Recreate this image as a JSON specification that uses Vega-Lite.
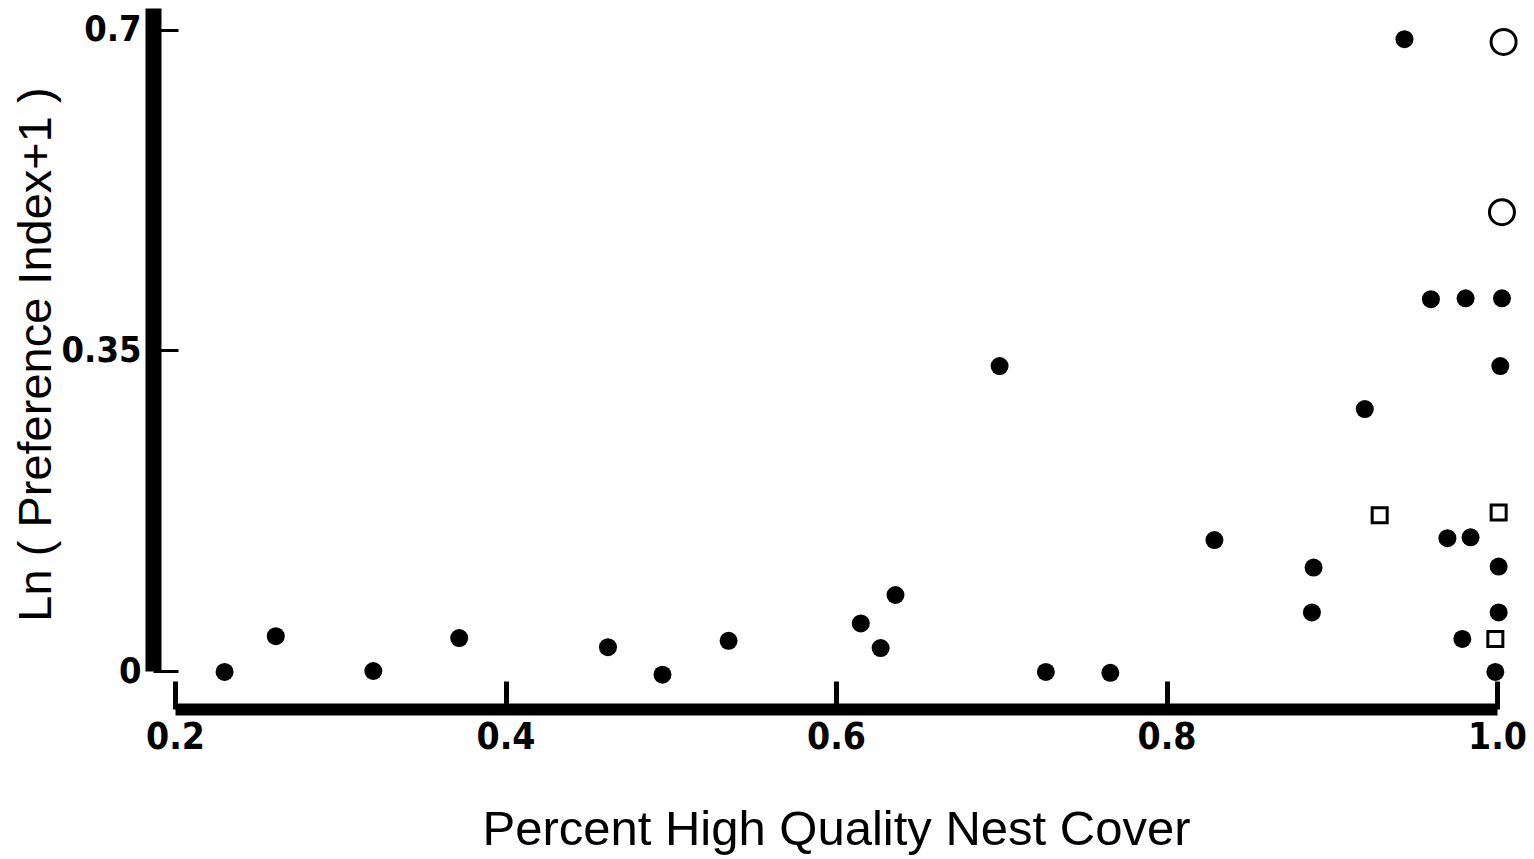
{
  "$schema": "https://vega.github.io/schema/vega-lite/v6.json",
  "width": 1322,
  "height": 663,
  "autosize": {"type": "none"},
  "padding": {"left": 175, "top": 8, "right": 37, "bottom": 188},
  "background": "white",
  "config": {"view": {"stroke": null}, "axis": {"grid": false}},
  "data": {
    "values": [
      {"cover": 0.230, "pref": -0.001, "type": "filled"},
      {"cover": 0.261, "pref": 0.038, "type": "filled"},
      {"cover": 0.320, "pref": 0.000, "type": "filled"},
      {"cover": 0.372, "pref": 0.036, "type": "filled"},
      {"cover": 0.462, "pref": 0.026, "type": "filled"},
      {"cover": 0.495, "pref": -0.004, "type": "filled"},
      {"cover": 0.535, "pref": 0.033, "type": "filled"},
      {"cover": 0.615, "pref": 0.052, "type": "filled"},
      {"cover": 0.627, "pref": 0.025, "type": "filled"},
      {"cover": 0.636, "pref": 0.083, "type": "filled"},
      {"cover": 0.699, "pref": 0.333, "type": "filled"},
      {"cover": 0.727, "pref": -0.001, "type": "filled"},
      {"cover": 0.766, "pref": -0.002, "type": "filled"},
      {"cover": 0.829, "pref": 0.143, "type": "filled"},
      {"cover": 0.889, "pref": 0.113, "type": "filled"},
      {"cover": 0.888, "pref": 0.064, "type": "filled"},
      {"cover": 0.920, "pref": 0.286, "type": "filled"},
      {"cover": 0.944, "pref": 0.690, "type": "filled"},
      {"cover": 0.960, "pref": 0.406, "type": "filled"},
      {"cover": 0.981, "pref": 0.407, "type": "filled"},
      {"cover": 1.003, "pref": 0.407, "type": "filled"},
      {"cover": 1.002, "pref": 0.333, "type": "filled"},
      {"cover": 0.970, "pref": 0.145, "type": "filled"},
      {"cover": 0.984, "pref": 0.146, "type": "filled"},
      {"cover": 1.001, "pref": 0.114, "type": "filled"},
      {"cover": 1.001, "pref": 0.064, "type": "filled"},
      {"cover": 0.979, "pref": 0.035, "type": "filled"},
      {"cover": 0.999, "pref": -0.001, "type": "filled"},
      {"cover": 1.004, "pref": 0.687, "type": "open"},
      {"cover": 1.003, "pref": 0.501, "type": "open"},
      {"cover": 0.929, "pref": 0.170, "type": "square"},
      {"cover": 1.001, "pref": 0.173, "type": "square"},
      {"cover": 0.999, "pref": 0.035, "type": "square"}
    ]
  },
  "encoding": {
    "x": {
      "field": "cover",
      "type": "quantitative",
      "scale": {"domain": [0.2, 1.0], "nice": false, "zero": false},
      "axis": {
        "values": [0.2, 0.4, 0.6, 0.8, 1.0],
        "format": ".1f",
        "offset": 38,
        "domainWidth": 12,
        "domainColor": "black",
        "tickSize": -28,
        "tickWidth": 5,
        "tickColor": "black",
        "labelFont": "DejaVu Sans Condensed, DejaVu Sans, sans-serif",
        "labelFontWeight": "bold",
        "labelFontSize": 37,
        "labelColor": "black",
        "labelPadding": 38,
        "labelFlush": false,
        "labelOverlap": false,
        "title": "Percent High Quality Nest Cover",
        "titleFont": "Liberation Sans",
        "titleFontWeight": "normal",
        "titleFontSize": 49,
        "titleColor": "black",
        "titlePadding": 50
      }
    },
    "y": {
      "field": "pref",
      "type": "quantitative",
      "scale": {"domain": [0, 0.724], "nice": false, "zero": false},
      "axis": {
        "values": [0, 0.35, 0.7],
        "format": ".2~f",
        "offset": 22,
        "domainWidth": 16,
        "domainColor": "black",
        "tickSize": -25,
        "tickWidth": 3,
        "tickColor": "black",
        "labelFont": "DejaVu Sans Condensed, DejaVu Sans, sans-serif",
        "labelFontWeight": "bold",
        "labelFontSize": 36,
        "labelColor": "black",
        "labelPadding": 37,
        "labelFlush": false,
        "labelOverlap": false,
        "title": "Ln ( Preference Index+1 )",
        "titleFont": "Liberation Sans",
        "titleFontWeight": "normal",
        "titleFontSize": 47,
        "titleColor": "black",
        "titlePadding": 1,
        "titleY": 346
      }
    }
  },
  "layer": [
    {
      "transform": [{"filter": "datum.type === 'filled'"}],
      "mark": {"type": "point", "shape": "circle", "filled": true, "size": 324, "color": "black", "opacity": 1, "clip": false}
    },
    {
      "transform": [{"filter": "datum.type === 'open'"}],
      "mark": {"type": "point", "shape": "circle", "filled": false, "size": 625, "strokeWidth": 3, "color": "black", "opacity": 1, "clip": false}
    },
    {
      "transform": [{"filter": "datum.type === 'square'"}],
      "mark": {"type": "point", "shape": "square", "filled": false, "size": 225, "strokeWidth": 3, "color": "black", "opacity": 1, "clip": false}
    }
  ]
}
